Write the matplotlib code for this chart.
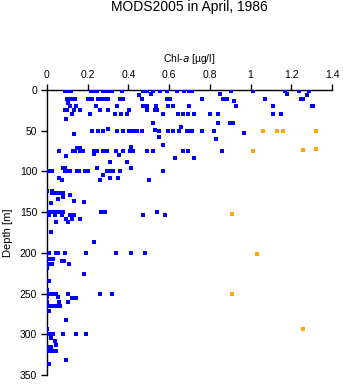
import matplotlib
matplotlib.use("Agg")
import matplotlib.pyplot as plt
from matplotlib.ticker import FuncFormatter

plt.rcParams['font.family'] = ['Liberation Sans', 'DejaVu Sans']

# blue series: depth [m] and Chl-a [ug/l], grouped by sampling depth
blue_depth = (
    [1] * 25
    + [5, 5, 6, 6, 5]
    + [11] * 22
    + [14, 16]
    + [20] * 14
    + [25] * 10
    + [30] * 14
    + [36, 40, 40, 40, 40, 46]
    + [50] * 19 + [48, 49, 54, 53, 58, 60, 68, 71, 71]
    + [75] * 19 + [70, 79, 80, 81, 83, 83, 88, 88]
    + [96] * 4
    + [100] * 15 + [104, 108, 108, 108, 111, 111, 111]
    + [124, 124, 126, 126, 126, 126, 126, 129, 132, 134, 136, 137, 139]
    + [150] * 13 + [154] * 7 + [159, 159, 159, 162, 162, 174, 187]
    + [200] * 10 + [208, 208, 210, 210, 214, 214, 214, 218, 226, 235, 246]
    + [250] * 7 + [254, 254, 256, 256, 260, 260, 260, 265, 265, 265, 265, 271, 282, 294]
    + [300] * 6 + [305, 308, 313, 315, 316, 321, 321, 321, 332, 336]
)
blue_chl = (
    [0.088, 0.10, 0.12, 0.215, 0.224, 0.244, 0.274, 0.285, 0.306, 0.321, 0.367, 0.473, 0.493,
     0.522, 0.555, 0.591, 0.637, 0.672, 0.699, 0.712, 0.902, 1.01, 1.17, 1.24, 1.288]
    + [0.851, 1.18, 1.278, 0.453, 0.51]
    + [0.097, 0.107, 0.117, 0.127, 0.137, 0.20, 0.22, 0.25, 0.265, 0.28, 0.30, 0.36, 0.375,
       0.465, 0.59, 0.604, 0.763, 0.865, 0.883, 1.072, 1.25, 1.26]
    + [0.92, 0.101]
    + [0.113, 0.142, 0.241, 0.345, 0.473, 0.493, 0.535, 0.596, 0.62, 0.699, 0.93, 1.11, 1.30, 1.308]
    + [0.088, 0.097, 0.134, 0.162, 0.26, 0.301, 0.403, 0.493, 0.53, 0.54]
    + [0.124, 0.211, 0.334, 0.362, 0.391, 0.571, 0.642, 0.668, 0.694, 0.72, 0.802, 0.841, 1.11, 1.15]
    + [0.092, 0.522, 0.841, 0.899, 0.912, 0.66]
    + [0.223, 0.249, 0.273, 0.342, 0.372, 0.401, 0.415, 0.43, 0.443, 0.465, 0.552, 0.596, 0.62,
       0.648, 0.686, 0.711, 0.76, 0.82, 0.691]
    + [0.301, 0.532, 0.131, 0.969, 0.552, 0.832, 0.571, 0.146, 0.162]
    + [0.06, 0.13, 0.137, 0.162, 0.175, 0.233, 0.244, 0.277, 0.287, 0.296, 0.339, 0.372, 0.408,
       0.421, 0.493, 0.522, 0.67, 0.694, 0.861]
    + [0.411, 0.233, 0.352, 0.093, 0.63, 0.72, 0.309, 0.391]
    + [0.08, 0.088, 0.244, 0.411]
    + [0.006, 0.015, 0.023, 0.088, 0.10, 0.113, 0.146, 0.159, 0.187, 0.203, 0.293, 0.306, 0.323,
       0.359, 0.571]
    + [0.274, 0.06, 0.309, 0.35, 0.26, 0.501, 0.072]
    + [0.002, 0.023, 0.023, 0.035, 0.05, 0.065, 0.077, 0.113, 0.08, 0.053, 0.131, 0.183, 0.02]
    + [0.002, 0.011, 0.02, 0.028, 0.031, 0.04, 0.05, 0.06, 0.08, 0.264, 0.275, 0.285, 0.542]
    + [0.011, 0.041, 0.072, 0.113, 0.134, 0.473, 0.58]
    + [0.092, 0.124, 0.162, 0.043, 0.101, 0.02, 0.231]
    + [0.002, 0.01, 0.043, 0.05, 0.055, 0.088, 0.192, 0.339, 0.411, 0.481]
    + [0.011, 0.031, 0.072, 0.085, 0.011, 0.023, 0.108, 0.002, 0.183, 0.01, 0.002]
    + [0.002, 0.011, 0.031, 0.043, 0.101, 0.26, 0.321]
    + [0.002, 0.053, 0.124, 0.142, 0.002, 0.06, 0.101, 0.011, 0.031, 0.043, 0.064, 0.011, 0.092, 0.002]
    + [0.002, 0.011, 0.031, 0.08, 0.142, 0.192]
    + [0.02, 0.041, 0.043, 0.002, 0.02, 0.01, 0.031, 0.043, 0.092, 0.011]
)

# orange series
orange_depth = [50, 50, 50, 50, 75, 74, 72, 152, 202, 250, 294]
orange_chl = [1.059, 1.131, 1.161, 1.32, 1.01, 1.259, 1.32, 0.91, 1.03, 0.91, 1.259]

x_ticks = [0, 0.2, 0.4, 0.6, 0.8, 1.0, 1.2, 1.4]
y_ticks = [0, 50, 100, 150, 200, 250, 300, 350]

fig = plt.figure(figsize=(3.43, 3.84), dpi=100)
ax = fig.add_axes([47 / 343, 1 - 375 / 384, 285 / 343, 285 / 384])

ax.scatter(blue_chl, blue_depth, s=5, marker='s', color='#0000ff', linewidths=0, zorder=3)
ax.scatter(orange_chl, orange_depth, s=5, marker='s', color='#ffa500', linewidths=0, zorder=3)

ax.set_xlim(0, 1.4)
ax.set_ylim(350, 0)
ax.set_xticks(x_ticks)
ax.set_yticks(y_ticks)
ax.xaxis.set_major_formatter(FuncFormatter(lambda v, p: '%g' % round(v, 2)))

ax.xaxis.tick_top()
ax.xaxis.set_label_position('top')
for side in ['right', 'bottom']:
    ax.spines[side].set_visible(False)
for side in ['left', 'top']:
    ax.spines[side].set_linewidth(1.0)

ax.tick_params(axis='both', direction='out', length=4, width=1.0, labelsize=7.5, pad=3)
ax.set_xlabel(r'Chl-$\it{a}$ [µg/l]', fontsize=7.5, labelpad=6)
ax.set_ylabel('Depth [m]', fontsize=8)
ax.yaxis.set_label_coords(-0.12, 0.5)

fig.text(189.5 / 343, 1 - 7 / 384, 'MODS2005 in April, 1986', ha='center', va='center', fontsize=10)

fig.savefig('out.png', dpi=100)
